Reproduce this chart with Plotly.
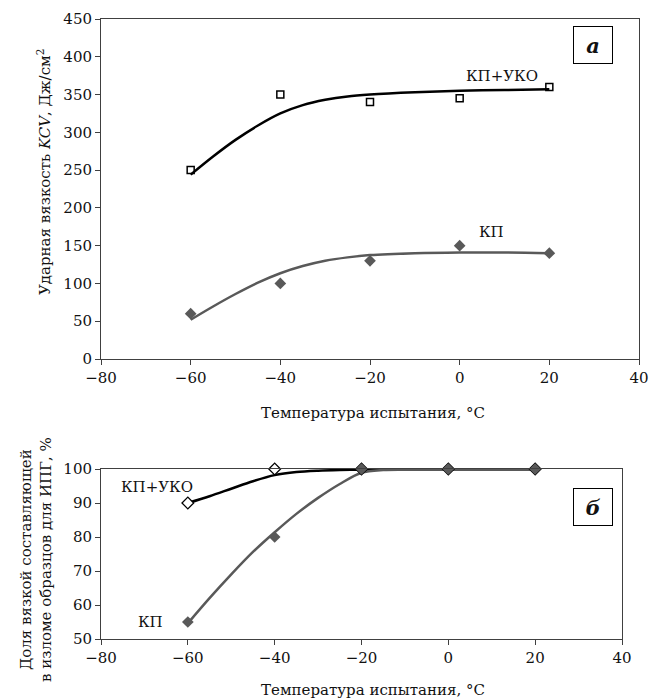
import plotly.graph_objects as go

W, H = 662, 699

# ---- data: panel a (impact toughness KCV) ----
temps = [-60, -40, -20, 0, 20]
kcv_kp_uko = [250, 350, 340, 345, 360]
kcv_kp = [60, 100, 130, 150, 140]

# trend curves
curve_t = [-60, -55, -50, -45, -40, -35, -30, -25, -20, -10, 0, 10, 20]
kcv_kp_uko_curve = [244, 268, 290, 309, 325, 336, 343, 347.5, 350, 353, 355, 356, 357]
kcv_kp_curve = [52, 69.5, 86, 101, 113.5, 123, 130, 134.5, 137.5, 140, 141, 141, 140]

# ---- data: panel b (ductile fraction, %) ----
duct_kp_uko = [90, 100, 100, 100, 100]
duct_kp = [55, 80, 100, 100, 100]
curve_t_b = [-60, -55, -50, -45, -40, -35, -30, -25, -20, -15, -10, 0, 10, 20]
duct_kp_uko_curve = [90, 92, 94.2, 96.4, 98.2, 99.1, 99.5, 99.7, 99.8, 99.9, 100, 100, 100, 100]
duct_kp_curve = [54.6, 62, 69, 75.6, 81.4, 86.8, 91.5, 95.6, 98.9, 99.7, 99.8, 99.8, 99.8, 99.8]

xticks = [-80, -60, -40, -20, 0, 20, 40]
yticks_a = [0, 50, 100, 150, 200, 250, 300, 350, 400, 450]
yticks_b = [50, 60, 70, 80, 90, 100]

BLACK = "#000000"
GRAY = "#595959"
AX = "#404040"
FONT = "DejaVu Serif"

fig = go.Figure()

# panel a curves
fig.add_trace(go.Scatter(x=curve_t, y=kcv_kp_uko_curve, mode="lines",
                         line=dict(color=BLACK, width=2.5, shape="spline", smoothing=0.9),
                         xaxis="x", yaxis="y", showlegend=False))
fig.add_trace(go.Scatter(x=curve_t, y=kcv_kp_curve, mode="lines",
                         line=dict(color=GRAY, width=2.5, shape="spline", smoothing=0.9),
                         xaxis="x", yaxis="y", showlegend=False))
# panel a markers
fig.add_trace(go.Scatter(x=temps, y=kcv_kp_uko, mode="markers",
                         marker=dict(symbol="square-open", size=7, color=BLACK,
                                     line=dict(width=1.5, color=BLACK)),
                         xaxis="x", yaxis="y", showlegend=False, cliponaxis=False))
fig.add_trace(go.Scatter(x=temps, y=kcv_kp, mode="markers",
                         marker=dict(symbol="diamond", size=9, color=GRAY),
                         xaxis="x", yaxis="y", showlegend=False, cliponaxis=False))

# panel b curves
fig.add_trace(go.Scatter(x=curve_t_b, y=duct_kp_uko_curve, mode="lines",
                         line=dict(color=BLACK, width=2.5, shape="spline", smoothing=0.9),
                         xaxis="x2", yaxis="y2", showlegend=False, cliponaxis=False))
fig.add_trace(go.Scatter(x=curve_t_b, y=duct_kp_curve, mode="lines",
                         line=dict(color=GRAY, width=2.5, shape="spline", smoothing=0.9),
                         xaxis="x2", yaxis="y2", showlegend=False, cliponaxis=False))
# panel b markers
fig.add_trace(go.Scatter(x=temps, y=duct_kp_uko, mode="markers",
                         marker=dict(symbol="diamond", size=9, color="white",
                                     line=dict(width=1.3, color=BLACK)),
                         xaxis="x2", yaxis="y2", showlegend=False, cliponaxis=False))
fig.add_trace(go.Scatter(x=temps, y=duct_kp, mode="markers",
                         marker=dict(symbol="diamond", size=9, color=GRAY),
                         xaxis="x2", yaxis="y2", showlegend=False, cliponaxis=False))

axis_common = dict(showgrid=False, zeroline=False, showline=True, linecolor=AX,
                   linewidth=1, mirror=True, ticks="outside", ticklen=5,
                   tickcolor=AX, tickwidth=1, automargin=False,
                   tickfont=dict(family=FONT, size=15, color="#111"))

fig.update_layout(
    width=W, height=H,
    margin=dict(l=0, r=0, t=0, b=0),
    paper_bgcolor="white", plot_bgcolor="white",
    xaxis=dict(domain=[101 / W, 639 / W], range=[-80, 40], tickvals=xticks,
               anchor="y", **axis_common),
    yaxis=dict(domain=[1 - 359 / H, 1 - 19 / H], range=[0, 450], tickvals=yticks_a,
               anchor="x", **axis_common),
    xaxis2=dict(domain=[101 / W, 622 / W], range=[-80, 40], tickvals=xticks,
                anchor="y2", **axis_common),
    yaxis2=dict(domain=[1 - 639 / H, 1 - 469 / H], range=[50, 100], tickvals=yticks_b,
                anchor="x2", **axis_common),
)

tf = dict(family=FONT, size=15, color="#111")
lf = dict(family=FONT, size=15, color="#111")
annotations = [
    # axis titles
    dict(text="Температура испытания, °C", xref="paper", yref="paper",
         x=373 / W, y=1 - 413 / H, showarrow=False, font=tf,
         xanchor="center", yanchor="middle"),
    dict(text="Температура испытания, °C", xref="paper", yref="paper",
         x=373 / W, y=1 - 690 / H, showarrow=False, font=tf,
         xanchor="center", yanchor="middle"),
    dict(text="Ударная вязкость <i>KCV</i>, Дж/см<sup>2</sup>", xref="paper", yref="paper",
         x=44 / W, y=1 - 172 / H, showarrow=False, font=tf, textangle=-90,
         xanchor="center", yanchor="middle"),
    dict(text="Доля вязкой составляющей<br>в изломе образцов для ИПГ, %",
         xref="paper", yref="paper", x=36 / W, y=1 - 560 / H, showarrow=False,
         font=tf, textangle=-90, xanchor="center", yanchor="middle"),
    # series labels
    dict(text="КП+УКО", xref="x", yref="y", x=9.4, y=374, showarrow=False, font=lf),
    dict(text="КП", xref="x", yref="y", x=7, y=168, showarrow=False, font=lf),
    dict(text="КП+УКО", xref="x2", yref="y2", x=-67, y=94.7, showarrow=False, font=lf),
    dict(text="КП", xref="x2", yref="y2", x=-68.7, y=55, showarrow=False, font=lf),
    # panel letters
    dict(text="<b><i>а</i></b>", xref="paper", yref="paper",
         x=592.5 / W, y=1 - 45.5 / H, showarrow=False,
         font=dict(family=FONT, size=21, color="#111"),
         bordercolor=BLACK, borderwidth=1, width=36, height=34,
         bgcolor="white", xanchor="center", yanchor="middle"),
    dict(text="<b><i>б</i></b>", xref="paper", yref="paper",
         x=592.5 / W, y=1 - 506.5 / H, showarrow=False,
         font=dict(family=FONT, size=21, color="#111"),
         bordercolor=BLACK, borderwidth=1, width=36, height=34,
         bgcolor="white", xanchor="center", yanchor="middle"),
]
fig.update_layout(annotations=annotations)

fig.write_html("out.html")
